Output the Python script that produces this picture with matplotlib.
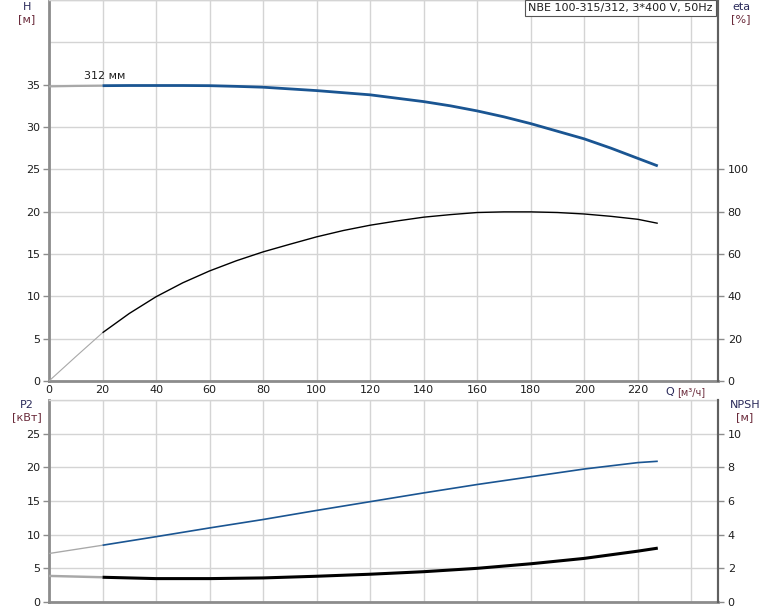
import matplotlib
matplotlib.use("Agg")
import matplotlib.pyplot as plt
import numpy as np

# ---- data ----
q_h = [0, 10, 20, 30, 40, 50, 60, 70, 80, 90, 100, 110, 120, 130, 140, 150, 160,
       170, 180, 190, 200, 210, 220, 227.5]
head = [34.8, 34.85, 34.88, 34.9, 34.9, 34.9, 34.88, 34.8, 34.7, 34.5, 34.3, 34.05,
        33.8, 33.4, 33.0, 32.5, 31.9, 31.2, 30.4, 29.5, 28.6, 27.5, 26.3, 25.4]

q_eta = [0, 10, 20, 30, 40, 50, 60, 70, 80, 90, 100, 110, 120, 130, 140, 150, 160,
         170, 180, 190, 200, 210, 220, 227.5]
eta = [0, 11.5, 22.8, 31.9, 39.8, 46.4, 52.0, 56.8, 61.0, 64.6, 68.1, 71.1, 73.6,
       75.6, 77.4, 78.6, 79.6, 79.9, 79.9, 79.6, 78.9, 77.8, 76.4, 74.5]

q_p = [0, 20, 40, 60, 80, 100, 120, 140, 160, 180, 200, 220, 227.5]
p2 = [7.2, 8.43, 9.7, 11.0, 12.25, 13.6, 14.9, 16.2, 17.45, 18.6, 19.75, 20.7, 20.9]

q_n = [0, 20, 40, 60, 80, 100, 120, 140, 160, 180, 200, 220, 227.5]
npsh = [1.55, 1.47, 1.39, 1.39, 1.43, 1.53, 1.65, 1.80, 2.0, 2.27, 2.59, 3.02, 3.2]

x_ticks = [0, 20, 40, 60, 80, 100, 120, 140, 160, 180, 200, 220]
h_ticks = [0, 5, 10, 15, 20, 25, 30, 35]
eta_ticks = [0, 20, 40, 60, 80, 100]
p2_ticks = [0, 5, 10, 15, 20, 25]
npsh_ticks = [0, 2, 4, 6, 8, 10]

title_text = "NBE 100-315/312, 3*400 V, 50Hz"
curve_label = "312 мм"

# ---- style ----
BLUE = "#1a5592"
GRAY_SEG = "#a8a8a8"
GRID = "#d4d4d4"
SPINE = "#8c8c8c"
TXT = "#1e1e1e"
LAB1 = "#2a2a5a"
LAB2 = "#6a2a3a"
FS = 8

W, H = 774, 611
fig = plt.figure(figsize=(W / 100, H / 100), dpi=100)

def rect(x0, y0, x1, y1):
    return [x0 / W, 1 - y1 / H, (x1 - x0) / W, (y1 - y0) / H]

ax1 = fig.add_axes(rect(49, 0, 718, 381))
ax2 = fig.add_axes(rect(49, 400, 718, 602))

def split_plot(ax, x, y, color, lw, cut=20):
    x = np.asarray(x, float); y = np.asarray(y, float)
    m1 = x <= cut
    m2 = x >= cut
    ax.plot(x[m1], y[m1], color=GRAY_SEG, lw=lw * 0.8, solid_capstyle="butt",
            solid_joinstyle="round", zorder=3)
    ax.plot(x[m2], y[m2], color=color, lw=lw, solid_capstyle="butt",
            solid_joinstyle="round", zorder=3)

def style(ax, ylim, yticks, grid_step):
    ax.set_xlim(0, 250)
    ax.set_ylim(*ylim)
    ax.set_xticks(np.arange(0, 251, 20), minor=False)
    ax.set_yticks(np.arange(ylim[0], ylim[1] + 0.01, grid_step), minor=True)
    ax.set_yticks(yticks)
    ax.grid(True, which="both", color=GRID, lw=1.0, zorder=0)
    ax.set_axisbelow(True)
    for s in ["left", "bottom"]:
        ax.spines[s].set_color(SPINE)
        ax.spines[s].set_linewidth(2.0)
    ax.spines["top"].set_color(GRID)
    ax.spines["top"].set_linewidth(1.0)
    ax.spines["right"].set_color("#606060")
    ax.spines["right"].set_linewidth(1.5)
    ax.tick_params(axis="y", which="major", direction="out", length=4, width=1,
                   color=SPINE, labelsize=FS, labelcolor=TXT, pad=2)
    ax.tick_params(axis="y", which="minor", length=0)
    ax.tick_params(axis="x", length=0, labelsize=FS, labelcolor=TXT, pad=3)

# ---- top panel ----
style(ax1, (0, 45), h_ticks, 5)
ax1.set_xticklabels([str(t) if t in x_ticks else "" for t in range(0, 251, 20)])
split_plot(ax1, q_h, head, BLUE, 2.0)
ax1.text(13, 35.4, curve_label, fontsize=FS, color=TXT, ha="left", va="bottom")

ax1r = ax1.twinx()
ax1r.set_ylim(0, 180)
ax1r.set_yticks(eta_ticks)
for s in ["left", "bottom", "top"]:
    ax1r.spines[s].set_visible(False)
ax1r.spines["right"].set_color("#606060")
ax1r.spines["right"].set_linewidth(1.5)
ax1r.tick_params(axis="y", direction="out", length=4, width=1, color=SPINE,
                 labelsize=FS, labelcolor=TXT, pad=3)
split_plot(ax1r, q_eta, eta, "black", 1.0)

fig.text(713 / W, 1 - 8 / H, title_text, ha="right", va="center",
         fontsize=FS, color=TXT, zorder=10,
         bbox=dict(boxstyle="square,pad=0.3", fc="white", ec="#555555", lw=0.8))

# ---- bottom panel ----
style(ax2, (0, 30), p2_ticks, 5)
ax2.set_xticklabels([])
split_plot(ax2, q_p, p2, BLUE, 1.2)

ax2r = ax2.twinx()
ax2r.set_ylim(0, 12)
ax2r.set_yticks(npsh_ticks)
for s in ["left", "bottom", "top"]:
    ax2r.spines[s].set_visible(False)
ax2r.spines["right"].set_color("#606060")
ax2r.spines["right"].set_linewidth(1.5)
ax2r.tick_params(axis="y", direction="out", length=4, width=1, color=SPINE,
                 labelsize=FS, labelcolor=TXT, pad=3)
split_plot(ax2r, q_n, npsh, "black", 2.2)

# ---- axis labels ----
def lab(x, y, s, c):
    fig.text(x / W, 1 - y / H, s, fontsize=FS, color=c, ha="center", va="center")

lab(27, 7, "H", LAB1)
lab(27, 19, "[м]", LAB2)
lab(741, 7, "eta", LAB1)
lab(741, 19, "[%]", LAB2)
lab(27, 405, "P2", LAB1)
lab(27, 417, "[кВт]", LAB2)
lab(745, 405, "NPSH", LAB1)
lab(745, 417, "[м]", LAB2)
fig.text(665 / W, 1 - 392 / H, "Q", fontsize=FS, color=LAB1, ha="left", va="center")
fig.text(677 / W, 1 - 392 / H, "[м³/ч]", fontsize=FS - 1, color=LAB2, ha="left", va="center")

fig.savefig("out.png", dpi=100)
